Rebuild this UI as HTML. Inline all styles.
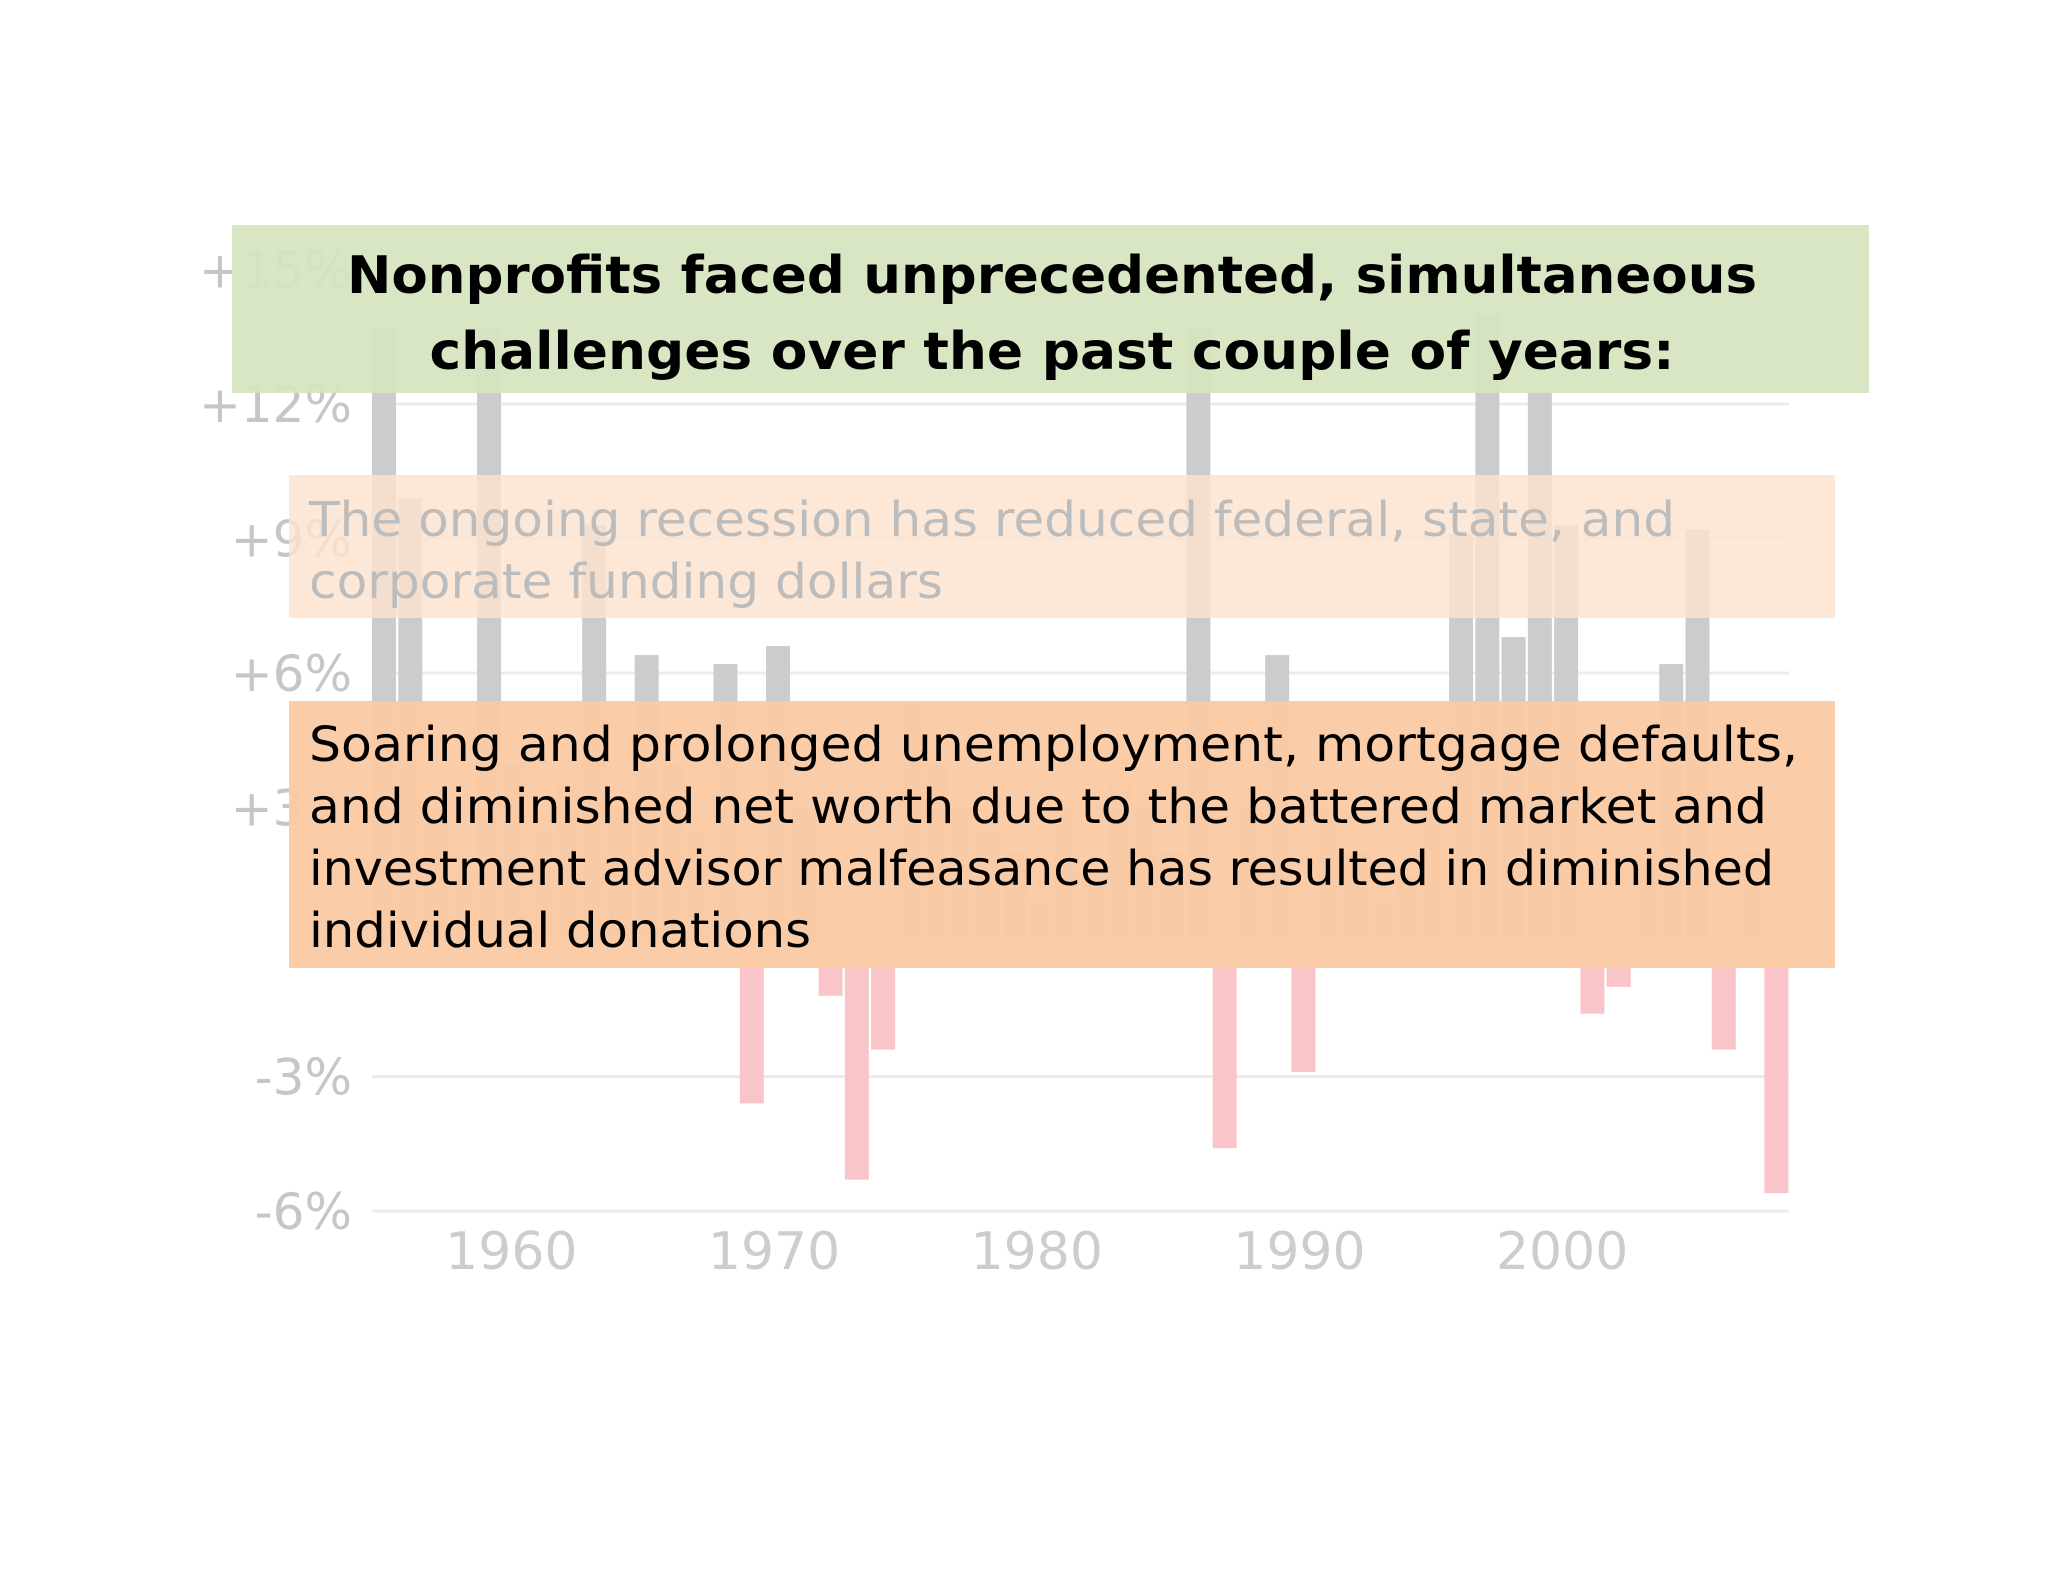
<!DOCTYPE html>
<html><head><meta charset="utf-8"><style>
html,body{margin:0;padding:0;background:#fff;}
svg{display:block;}
</style></head><body>
<svg id="chart" width="2048" height="1582" viewBox="0 0 2048 1582" xmlns="http://www.w3.org/2000/svg">
<rect width="2048" height="1582" fill="#fff"/>
<g id="grid"></g>
<g id="ylabels" font-family="'DejaVu Sans', sans-serif" font-size="50" fill="#c6c6c6" text-anchor="end"></g>
<g id="xlabels" font-family="'DejaVu Sans', sans-serif" font-size="52" fill="#cdcdcd" text-anchor="middle"></g>
<g id="bars"></g>

<rect x="232" y="225" width="1637" height="168" fill="#d6e4bf" fill-opacity="0.93"/>
<g font-family="'DejaVu Sans', sans-serif" font-weight="bold" font-size="52" fill="#000" text-anchor="middle">
<text x="1052" y="293" textLength="1410" lengthAdjust="spacingAndGlyphs">Nonprofits faced unprecedented, simultaneous</text>
<text x="1052" y="369" textLength="1245" lengthAdjust="spacingAndGlyphs">challenges over the past couple of years:</text>
</g>

<rect x="289" y="475" width="1546" height="143" fill="#fde3cf" fill-opacity="0.82"/>
<g font-family="'DejaVu Sans', sans-serif" font-size="48" fill="#bcbcbc">
<text x="309" y="536" textLength="1366" lengthAdjust="spacingAndGlyphs">The ongoing recession has reduced federal, state, and</text>
<text x="309" y="598" textLength="634" lengthAdjust="spacingAndGlyphs">corporate funding dollars</text>
</g>

<rect x="289" y="701" width="1546" height="267" fill="#fbcaa4" fill-opacity="0.96"/>
<g font-family="'DejaVu Sans', sans-serif" font-size="48" fill="#000">
<text x="309" y="761" textLength="1489" lengthAdjust="spacingAndGlyphs">Soaring and prolonged unemployment, mortgage defaults,</text>
<text x="309" y="823" textLength="1458" lengthAdjust="spacingAndGlyphs">and diminished net worth due to the battered market and</text>
<text x="309" y="885" textLength="1465" lengthAdjust="spacingAndGlyphs">investment advisor malfeasance has resulted in diminished</text>
<text x="309" y="947" textLength="502" lengthAdjust="spacingAndGlyphs">individual donations</text>
</g>
</svg>
<script>
const years = [1955,1956,1957,1958,1959,1960,1961,1962,1963,1964,1965,1966,1967,1968,1969,1970,1971,1972,1973,1974,1975,1976,1977,1978,1979,1980,1981,1982,1983,1984,1985,1986,1987,1988,1989,1990,1991,1992,1993,1994,1995,1996,1997,1998,1999,2000,2001,2002,2003,2004,2005,2006,2007,2008];
const values = [13.7,9.9,3.0,1.5,13.7,4.0,2.5,3.5,9.3,3.0,6.4,4.0,2.5,6.2,-3.6,6.6,3.0,-1.2,-5.3,-2.4,5.3,4.0,3.0,2.5,2.0,1.0,3.0,1.5,3.5,3.0,2.0,13.7,-4.6,3.0,6.4,-2.9,3.0,2.0,1.0,1.5,3.0,9.1,14.0,6.8,12.3,9.3,-1.6,-1.0,2.0,6.2,9.2,-2.4,2.0,-5.6];
const yTicks = [15,12,9,6,3,0,-3,-6];
const yTickLabels = ["+15%","+12%","+9%","+6%","+3%","0","-3%","-6%"];
const xTicks = [1960,1970,1980,1990,2000];
const xTickLabels = ["1960","1970","1980","1990","2000"];

const NS = "http://www.w3.org/2000/svg";
function yScale(v){ return 942 - v * (134.5/3); }
function xScale(yr){ return 384 + (yr - 1955) * 26.27; }
const barW = 24;

const grid = document.getElementById('grid');
const yl = document.getElementById('ylabels');
yTicks.forEach((t,i)=>{
  const y = yScale(t);
  if (t !== 0) {
    const ln = document.createElementNS(NS,'line');
    ln.setAttribute('x1',372); ln.setAttribute('x2',1789);
    ln.setAttribute('y1',y); ln.setAttribute('y2',y);
    ln.setAttribute('stroke','#ececec'); ln.setAttribute('stroke-width',3);
    
    
    grid.appendChild(ln);
  }
  const tx = document.createElementNS(NS,'text');
  tx.setAttribute('x', 352); tx.setAttribute('y', y + 18);
  tx.textContent = yTickLabels[i];
  
  
  yl.appendChild(tx);
});
const xl = document.getElementById('xlabels');
xTicks.forEach((t,i)=>{
  const tx = document.createElementNS(NS,'text');
  tx.setAttribute('x', xScale(t) - 4); tx.setAttribute('y', 1269);
  tx.textContent = xTickLabels[i];
  
  
  xl.appendChild(tx);
});
const bars = document.getElementById('bars');
years.forEach((yr,i)=>{
  const v = values[i];
  const r = document.createElementNS(NS,'rect');
  const y0 = yScale(0), y1 = yScale(v);
  r.setAttribute('x', xScale(yr) - barW/2);
  r.setAttribute('width', barW);
  r.setAttribute('y', Math.min(y0,y1));
  r.setAttribute('height', Math.abs(y1-y0));
  r.setAttribute('fill', v >= 0 ? '#cccccc' : '#fac5c8');
  
  
  bars.appendChild(r);
});
</script>
</body></html>
